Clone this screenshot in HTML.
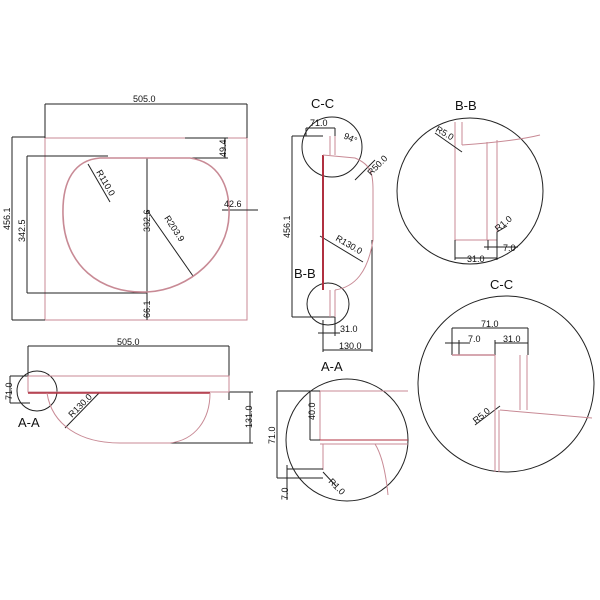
<!DOCTYPE html>
<html><head><style>body{margin:0;background:#fff}svg{display:block}text{font-family:"Liberation Sans",sans-serif;fill:#111}</style></head><body>
<svg width="600" height="600" viewBox="0 0 600 600" xmlns="http://www.w3.org/2000/svg">
<g fill="none" stroke-width="1">
<!-- Top view -->
<rect x="45" y="138" width="202" height="182" stroke="#c88a95"/>
<g stroke="#222">
<line x1="45" y1="104" x2="247" y2="104"/><line x1="45" y1="104" x2="45" y2="138"/><line x1="247" y1="104" x2="247" y2="138"/>
<line x1="12" y1="137" x2="12" y2="320"/><line x1="12" y1="137" x2="45" y2="137"/><line x1="12" y1="320" x2="45" y2="320"/>
<line x1="27" y1="156" x2="27" y2="293"/><line x1="27" y1="156" x2="108" y2="156"/><line x1="27" y1="293" x2="147" y2="293"/>
<line x1="147" y1="158" x2="147" y2="320"/>
<line x1="88" y1="164" x2="110" y2="202"/>
<line x1="147" y1="210" x2="193" y2="276"/>
<line x1="222" y1="210" x2="258" y2="210"/>
<line x1="185" y1="138" x2="228" y2="138"/><line x1="185" y1="158" x2="228" y2="158"/><line x1="225" y1="138" x2="225" y2="158"/>
</g>
<path d="M100 158 L190 158 C218 162 230 185 229 215 C228 255 190 290 147 292 C100 294 64 265 63 215 C62 180 75 160 100 158 Z" stroke="#c88a95" stroke-width="1.6"/>
<!-- Side view A-A -->
<g stroke="#222">
<line x1="292" y1="136" x2="292" y2="317"/><line x1="292" y1="136" x2="323" y2="136"/><line x1="292" y1="317" x2="335" y2="317"/>
<line x1="323" y1="320" x2="323" y2="352"/><line x1="372" y1="240" x2="372" y2="352"/><line x1="323" y1="350" x2="372" y2="350"/>
<line x1="318" y1="333" x2="340" y2="333"/><line x1="335" y1="317" x2="335" y2="336"/>
<line x1="355" y1="180" x2="375" y2="160"/><line x1="320" y1="236" x2="363" y2="262"/>
<circle cx="332" cy="147" r="30"/><circle cx="328" cy="304" r="21"/>
<line x1="306" y1="128" x2="335" y2="128"/><line x1="306" y1="128" x2="306" y2="136"/><line x1="335" y1="128" x2="335" y2="136"/>
</g>
<g stroke="#c88a95">
<line x1="323" y1="155" x2="323" y2="290" stroke="#b03040" stroke-width="2"/>
<line x1="330" y1="136" x2="330" y2="155"/><line x1="335" y1="136" x2="335" y2="155"/>
<line x1="330" y1="290" x2="330" y2="317"/><line x1="335" y1="290" x2="335" y2="317"/>
<path d="M323 155 L355 158 C372 165 373 175 373 190 L373 240 C368 272 355 287 335 290"/>
</g>
<!-- B-B detail -->
<circle cx="470" cy="191" r="73" stroke="#222"/>
<g stroke="#c88a95">
<line x1="455" y1="122" x2="455" y2="240"/><line x1="462" y1="122" x2="462" y2="145"/>
<line x1="487" y1="142" x2="487" y2="240"/><line x1="497" y1="140" x2="497" y2="240"/>
<line x1="455" y1="240" x2="497" y2="240"/>
<path d="M462 145 C490 143 520 140 540 135"/>
</g>
<g stroke="#222">
<line x1="435" y1="133" x2="462" y2="152"/>
<line x1="455" y1="240" x2="455" y2="260"/><line x1="497" y1="232" x2="497" y2="260"/><line x1="455" y1="258" x2="497" y2="258"/>
<line x1="488" y1="240" x2="488" y2="250"/><line x1="484" y1="247" x2="518" y2="247"/>
<line x1="497" y1="232" x2="507" y2="226"/>
</g>
<!-- C-C detail -->
<circle cx="506" cy="384" r="88" stroke="#222"/>
<g stroke="#222">
<line x1="452" y1="328" x2="528" y2="328"/><line x1="452" y1="328" x2="452" y2="355"/><line x1="528" y1="328" x2="528" y2="355"/>
<line x1="445" y1="343" x2="470" y2="343"/><line x1="459" y1="340" x2="459" y2="355"/>
<line x1="495" y1="343" x2="528" y2="343"/><line x1="495" y1="340" x2="495" y2="355"/>
<line x1="475" y1="425" x2="500" y2="406"/>
</g>
<g stroke="#c88a95">
<line x1="452" y1="355" x2="495" y2="355" stroke-width="1.5"/>
<line x1="495" y1="355" x2="495" y2="472"/><line x1="499" y1="410" x2="499" y2="472"/>
<line x1="520" y1="355" x2="520" y2="410"/><line x1="527" y1="355" x2="527" y2="410"/>
<line x1="500" y1="410" x2="592" y2="418"/>
</g>
<!-- Front view -->
<g stroke="#222">
<line x1="28" y1="346" x2="229" y2="346"/><line x1="28" y1="346" x2="28" y2="376"/><line x1="229" y1="346" x2="229" y2="400"/>
<line x1="229" y1="392" x2="253" y2="392"/><line x1="160" y1="443" x2="253" y2="443"/><line x1="250" y1="392" x2="250" y2="443"/>
<line x1="10" y1="376" x2="10" y2="403"/><line x1="10" y1="376" x2="28" y2="376"/><line x1="10" y1="403" x2="30" y2="403"/>
<circle cx="37" cy="391" r="20"/>
<line x1="65" y1="428" x2="100" y2="392"/>
</g>
<g stroke="#c88a95">
<rect x="28" y="376" width="201" height="16"/>
<line x1="28" y1="393" x2="210" y2="393" stroke="#b03040" stroke-width="1.5"/>
<path d="M47 393 C52 425 80 443 120 443 L170 443 C195 440 210 420 210 393"/>
</g>
<!-- A-A detail -->
<circle cx="347" cy="440" r="61" stroke="#222"/>
<g stroke="#c88a95">
<line x1="320" y1="391" x2="408" y2="391"/><line x1="320" y1="391" x2="320" y2="440"/>
<line x1="320" y1="440" x2="408" y2="440" stroke="#b03040"/><line x1="320" y1="444" x2="408" y2="444"/>
<line x1="323" y1="444" x2="323" y2="470"/>
<path d="M375 444 C382 455 386 475 388 495"/>
</g>
<g stroke="#222">
<line x1="277" y1="391" x2="277" y2="478"/><line x1="277" y1="391" x2="320" y2="391"/><line x1="277" y1="478" x2="323" y2="478"/>
<line x1="310" y1="391" x2="310" y2="440"/><line x1="310" y1="440" x2="320" y2="440"/>
<line x1="287" y1="469" x2="323" y2="469"/><line x1="287" y1="465" x2="287" y2="500"/>
<line x1="323" y1="472" x2="336" y2="486"/>
</g>
</g>
<g font-size="9">
<text x="133" y="102">505.0</text>
<text x="224" y="207">42.6</text>
<text transform="translate(10,230) rotate(-90)">456.1</text>
<text transform="translate(25,242) rotate(-90)">342.5</text>
<text transform="translate(150,232) rotate(-90)">332.6</text>
<text transform="translate(150,318) rotate(-90)">66.1</text>
<text transform="translate(226,157) rotate(-90)">49.4</text>
<text transform="translate(96,172) rotate(60)">R110.0</text>
<text transform="translate(164,218) rotate(57)">R203.9</text>
<text transform="translate(290,238) rotate(-90)">456.1</text>
<text x="310" y="126">71.0</text>
<text transform="translate(343,138) rotate(25)">94°</text>
<text transform="translate(371,176) rotate(-45)">R50.0</text>
<text transform="translate(335,240) rotate(30)">R130.0</text>
<text x="340" y="332">31.0</text>
<text x="339" y="349">130.0</text>
<text transform="translate(435,131) rotate(30)">R5.0</text>
<text transform="translate(498,232) rotate(-40)">R1.0</text>
<text x="503" y="251">7.0</text>
<text x="467" y="262">31.0</text>
<text x="481" y="327">71.0</text>
<text x="468" y="342">7.0</text>
<text x="503" y="342">31.0</text>
<text transform="translate(476,424) rotate(-40)">R5.0</text>
<text x="117" y="345">505.0</text>
<text transform="translate(12,400) rotate(-90)">71.0</text>
<text transform="translate(72,418) rotate(-45)">R130.0</text>
<text transform="translate(252,428) rotate(-90)">131.0</text>
<text transform="translate(275,444) rotate(-90)">71.0</text>
<text transform="translate(315,420) rotate(-90)">40.0</text>
<text transform="translate(288,500) rotate(-90)">7.0</text>
<text transform="translate(328,482) rotate(45)">R1.0</text>
</g>
<g font-size="13">
<text x="311" y="108">C-C</text>
<text x="294" y="278">B-B</text>
<text x="321" y="371">A-A</text>
<text x="455" y="110">B-B</text>
<text x="490" y="289">C-C</text>
<text x="18" y="427">A-A</text>
</g>
</svg>
</body></html>
